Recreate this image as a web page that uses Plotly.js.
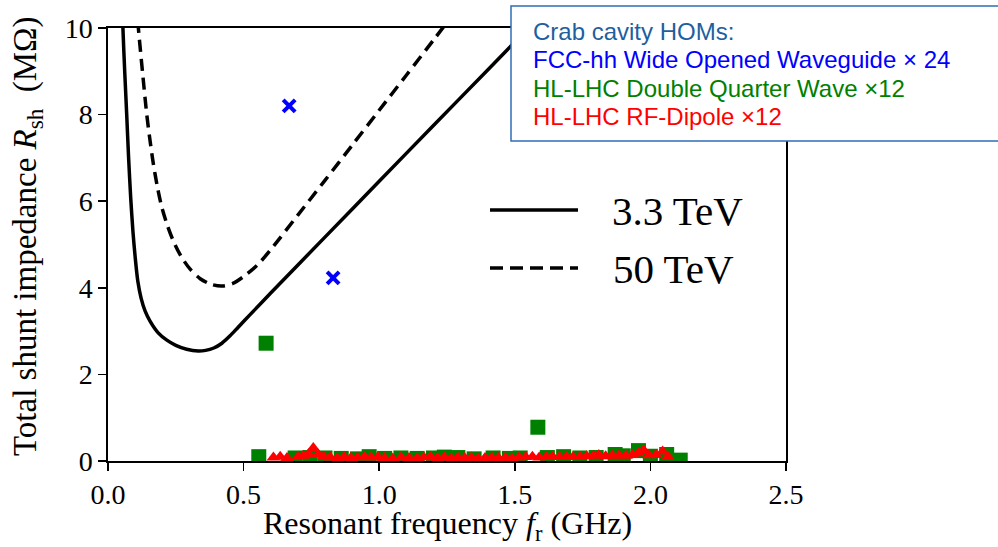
<!DOCTYPE html>
<html>
<head>
<meta charset="utf-8">
<script src="https://cdn.plot.ly/plotly-3.0.1.min.js"></script>
<style>html,body{margin:0;padding:0;background:#fff;}#chart{width:998px;height:547px;}</style>
</head>
<body>
<div id="chart"></div>
<script>
// 3.3 TeV threshold curve (solid)
const freq33 = [0.050,0.055,0.062,0.069,0.076,0.084,0.092,0.100,0.110,0.122,0.137,0.155,0.185,0.217,0.250,0.290,0.333,0.360,0.390,0.420,0.450,0.480,0.524,0.600,0.800,1.000,1.200,1.400,1.550,1.600];
const rsh33  = [11.2,10.0,8.95,8.0,7.0,6.05,5.3,4.72,4.15,3.76,3.46,3.23,2.96,2.79,2.67,2.58,2.54,2.555,2.61,2.72,2.89,3.09,3.38,3.88,5.17,6.46,7.75,9.03,10.0,10.33];
// 50 TeV threshold curve (dashed)
const freq50 = [0.105,0.112,0.127,0.143,0.155,0.167,0.183,0.198,0.220,0.241,0.270,0.303,0.340,0.380,0.420,0.460,0.500,0.550,0.600,0.700,0.800,0.900,1.000,1.100,1.200,1.250];
const rsh50  = [10.6,10.0,9.0,8.0,7.4,6.87,6.3,5.87,5.42,5.08,4.72,4.43,4.21,4.08,4.04,4.10,4.26,4.52,4.88,5.68,6.48,7.29,8.10,8.91,9.72,10.13];
// FCC-hh Wide Opened Waveguide x24
const freqWOW = [0.668,0.830];
const rshWOW  = [8.2,4.23];
// HL-LHC Double Quarter Wave x12
const freqDQW = [0.556,0.583,0.690,0.745,0.800,0.860,0.920,0.963,1.020,1.080,1.140,1.200,1.240,1.290,1.350,1.420,1.480,1.520,1.585,1.620,1.680,1.740,1.800,1.870,1.900,1.956,2.000,2.060,2.110];
const rshDQW  = [0.10,2.72,0.07,0.08,0.07,0.06,0.05,0.10,0.06,0.07,0.06,0.07,0.09,0.08,0.05,0.07,0.06,0.07,0.78,0.08,0.10,0.07,0.08,0.15,0.12,0.24,0.11,0.15,0.02];
// HL-LHC RF-Dipole x12
const freqRFD = [0.610,0.635,0.660,0.700,0.720,0.740,0.757,0.775,0.795,0.820,0.845,0.870,0.895,0.920,0.945,0.970,0.995,1.020,1.050,1.080,1.110,1.140,1.165,1.190,1.215,1.240,1.265,1.290,1.315,1.340,1.365,1.390,1.415,1.440,1.465,1.490,1.515,1.540,1.565,1.590,1.615,1.640,1.665,1.690,1.715,1.740,1.765,1.790,1.810,1.835,1.860,1.885,1.910,1.935,1.955,1.975,1.995,2.020,2.045,2.065];
const rshRFD  = [0.08,0.10,0.07,0.09,0.12,0.16,0.30,0.15,0.10,0.08,0.06,0.09,0.07,0.08,0.10,0.08,0.09,0.07,0.06,0.08,0.07,0.06,0.08,0.09,0.07,0.08,0.06,0.08,0.07,0.08,0.06,0.07,0.08,0.07,0.08,0.06,0.08,0.09,0.10,0.08,0.09,0.10,0.09,0.10,0.09,0.10,0.11,0.12,0.14,0.11,0.12,0.13,0.12,0.14,0.18,0.25,0.13,0.14,0.22,0.10];

const xTickVals = [0,0.5,1.0,1.5,2.0,2.5];
const xTickText = ['0.0','0.5','1.0','1.5','2.0','2.5'];
const yTickVals = [0,2,4,6,8,10];
const yTickText = ['0','2','4','6','8','10'];

const serif = 'Liberation Serif, Times New Roman, serif';
const sans = 'Liberation Sans, Arial, sans-serif';

const traces = [
  {x: freq33, y: rsh33, mode: 'lines', line: {color: '#000', width: 3.5, shape: 'spline', smoothing: 0.8}, showlegend: false, hoverinfo: 'skip'},
  {x: freq50, y: rsh50, mode: 'lines', line: {color: '#000', width: 3.5, dash: '12px,7px', shape: 'spline', smoothing: 0.8}, showlegend: false, hoverinfo: 'skip'},
  {x: freqDQW, y: rshDQW, mode: 'markers', marker: {symbol: 'square', size: 15, color: '#008000', line: {width: 0}}, showlegend: false},
  {x: freqRFD, y: rshRFD, mode: 'markers', marker: {symbol: 'triangle-up', size: 12, color: '#ff0000', line: {width: 0}}, showlegend: false},
  {x: freqWOW, y: rshWOW, mode: 'markers', marker: {symbol: 'x-thin-open', size: 12, color: '#0000ff', line: {width: 4, color: '#0000ff'}}, showlegend: false}
];

const L = 108, W = 678, T = 28, H = 433;
function px(xp){ return (xp - L) / W; }
function py(yp){ return (T + H - yp) / H; }

const layout = {
  width: 998, height: 547,
  margin: {l: L, r: 998 - L - W, t: T, b: 547 - T - H, pad: 0},
  paper_bgcolor: '#fff', plot_bgcolor: '#fff',
  showlegend: false,
  xaxis: {
    range: [0, 2.5], tickvals: xTickVals, ticktext: xTickText,
    showgrid: false, zeroline: false, showline: true, mirror: true,
    linecolor: '#000', linewidth: 1.6, ticks: 'outside', ticklen: 8, tickwidth: 1.6, tickcolor: '#000',
    tickfont: {family: serif, size: 28, color: '#000'}
  },
  yaxis: {
    range: [0, 10], tickvals: yTickVals, ticktext: yTickText,
    showgrid: false, zeroline: false, showline: true, mirror: true,
    linecolor: '#000', linewidth: 1.6, ticks: 'outside', ticklen: 8, tickwidth: 1.6, tickcolor: '#000',
    tickfont: {family: serif, size: 28, color: '#000'}
  },
  shapes: [
    {type: 'line', xref: 'paper', yref: 'paper', x0: px(490), x1: px(578), y0: py(210), y1: py(210), line: {color: '#000', width: 3.5}},
    {type: 'line', xref: 'paper', yref: 'paper', x0: px(490), x1: px(578), y0: py(268), y1: py(268), line: {color: '#000', width: 3.5, dash: '13px,7px'}},
    {type: 'rect', xref: 'paper', yref: 'paper', layer: 'above', x0: px(511), x1: px(1020), y0: py(141), y1: py(6), fillcolor: '#ffffff', line: {color: '#2f6db5', width: 1.5}}
  ],
  annotations: [
    {xref: 'paper', yref: 'paper', x: px(447), y: py(525), xanchor: 'center', yanchor: 'middle', showarrow: false,
     text: 'Resonant frequency <i>f</i><sub>r</sub> (GHz)', font: {family: serif, size: 32, color: '#000'}},
    {xref: 'paper', yref: 'paper', x: px(27), y: py(236), xanchor: 'center', yanchor: 'middle', showarrow: false, textangle: -90,
     text: 'Total shunt impedance <i>R</i><sub>sh</sub>  (MΩ)', font: {family: serif, size: 33, color: '#000'}},
    {xref: 'paper', yref: 'paper', x: px(610), y: py(211), xanchor: 'left', yanchor: 'middle', showarrow: false,
     text: '3.3 TeV', font: {family: serif, size: 41, color: '#000'}},
    {xref: 'paper', yref: 'paper', x: px(611), y: py(269), xanchor: 'left', yanchor: 'middle', showarrow: false,
     text: '50 TeV', font: {family: serif, size: 41, color: '#000'}},
    {xref: 'paper', yref: 'paper', x: px(531), y: py(31), xanchor: 'left', yanchor: 'middle', showarrow: false,
     text: 'Crab cavity HOMs:', font: {family: sans, size: 24, color: '#1f5f9f'}},
    {xref: 'paper', yref: 'paper', x: px(531), y: py(60), xanchor: 'left', yanchor: 'middle', showarrow: false,
     text: 'FCC-hh Wide Opened Waveguide × 24', font: {family: sans, size: 24, color: '#0000ff'}},
    {xref: 'paper', yref: 'paper', x: px(531), y: py(88), xanchor: 'left', yanchor: 'middle', showarrow: false,
     text: 'HL-LHC Double Quarter Wave ×12', font: {family: sans, size: 24, color: '#008000'}},
    {xref: 'paper', yref: 'paper', x: px(531), y: py(116), xanchor: 'left', yanchor: 'middle', showarrow: false,
     text: 'HL-LHC RF-Dipole ×12', font: {family: sans, size: 24, color: '#ff0000'}}
  ]
};

Plotly.newPlot('chart', traces, layout, {staticPlot: true, displayModeBar: false});
</script>
</body>
</html>
